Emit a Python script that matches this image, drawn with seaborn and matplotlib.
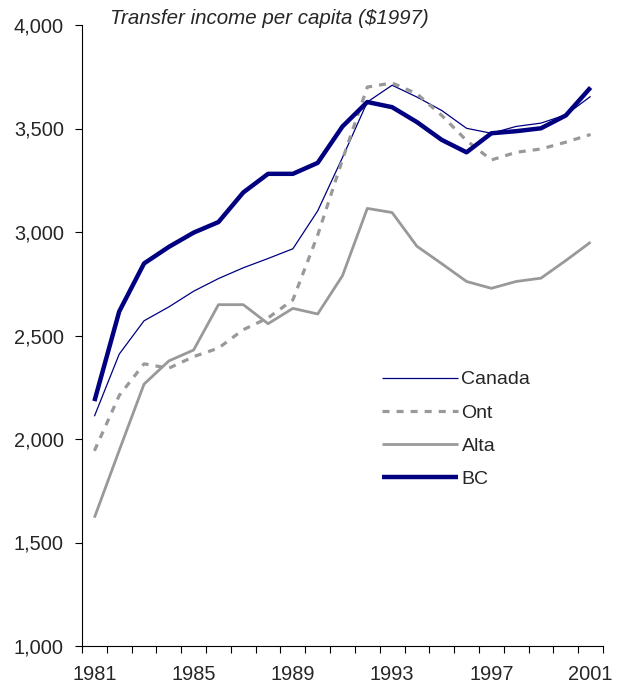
import matplotlib
matplotlib.use("Agg")
import matplotlib.pyplot as plt
import seaborn as sns
import pandas as pd
import numpy as np

# Transfer income per capita, constant 1997 dollars
years = list(range(1981, 2002))
canada = [2110, 2410, 2571, 2638, 2714, 2775, 2827, 2872, 2919, 3102, 3360,
          3628, 3709, 3652, 3587, 3501, 3477, 3510, 3526, 3566, 3655]
ont = [1943, 2210, 2363, 2342, 2398, 2439, 2528, 2585, 2672, 2985, 3350,
       3700, 3720, 3668, 3563, 3442, 3348, 3385, 3401, 3434, 3471]
alta = [1620, 1945, 2265, 2377, 2430, 2649, 2649, 2557, 2631, 2604, 2789,
        3114, 3094, 2931, 2847, 2761, 2728, 2761, 2777, 2862, 2951]
bc = [2183, 2616, 2848, 2928, 2997, 3048, 3191, 3281, 3281, 3334, 3510,
      3628, 3603, 3531, 3445, 3385, 3477, 3487, 3501, 3563, 3698]

series_names = ["Canada", "Ont", "Alta", "BC"]
tick_years = [1981, 1985, 1989, 1993, 1997, 2001]
y_ticks = [1000, 1500, 2000, 2500, 3000, 3500, 4000]
title_text = "Transfer income per capita ($1997)"

df = pd.DataFrame({
    "year": years * 4,
    "value": canada + ont + alta + bc,
    "region": sum([[n] * len(years) for n in series_names], []),
})

sns.set_theme(style="white")
plt.rcParams["font.family"] = ["Liberation Sans", "DejaVu Sans"]

styles = {
    "Canada": dict(color="#000080", linewidth=0.9, linestyle="-"),
    "Ont": dict(color="#999999", linewidth=2.3, linestyle=(0, (2.2, 2.2))),
    "Alta": dict(color="#999999", linewidth=2.0, linestyle="-"),
    "BC": dict(color="#000080", linewidth=3.2, linestyle="-"),
}

fig = plt.figure(figsize=(6.18, 6.87), dpi=100)
ax = fig.add_axes([82 / 618, 1 - 646 / 687, (603 - 82) / 618, (646 - 25) / 687])

for name in series_names:
    sub = df[df["region"] == name]
    sns.lineplot(data=sub, x="year", y="value", ax=ax, label=name,
                 solid_capstyle="butt", dash_capstyle="butt", **styles[name])

ax.set_xlim(1980.5, 2001.5)
ax.set_ylim(1000, 4000)
ax.set_xlabel("")
ax.set_ylabel("")

ax.set_yticks(y_ticks)
ax.set_yticklabels([f"{v:,}" for v in y_ticks], fontsize=14.4)
ax.tick_params(axis="y", direction="out", length=5, width=0.8, color="black",
               pad=8, left=True)

ax.set_xticks(tick_years)
ax.set_xticklabels([str(y) for y in tick_years], fontsize=14.4)
ax.set_xticks(np.arange(1980.5, 2002, 1.0), minor=True)
ax.tick_params(axis="x", which="major", length=0, pad=14, bottom=True)
ax.tick_params(axis="x", which="minor", direction="out", length=5, width=0.8,
               color="black", bottom=True)

for side in ["top", "right"]:
    ax.spines[side].set_visible(False)
for side in ["left", "bottom"]:
    ax.spines[side].set_color("black")
    ax.spines[side].set_linewidth(0.8)
ax.grid(False)

leg = ax.legend(loc="upper left", bbox_to_anchor=(374 / 618, 1 - 363 / 687),
                bbox_transform=fig.transFigure, frameon=False, fontsize=14,
                handlelength=3.9, handletextpad=0.2, labelspacing=0.8,
                borderaxespad=0)

fig.text(110 / 618, 1 - 19 / 687, title_text, fontsize=14.8, style="italic",
         va="center", ha="left")

fig.savefig("out.png", dpi=100)
